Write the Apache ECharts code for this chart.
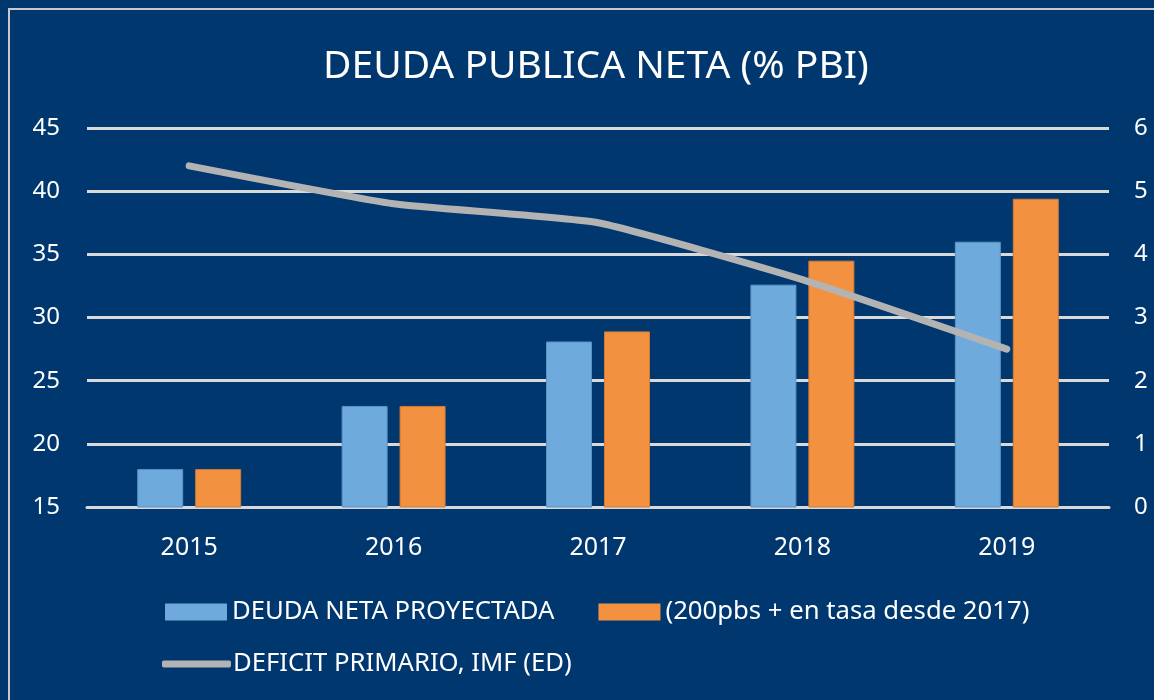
<!DOCTYPE html>
<html>
<head>
<meta charset="utf-8">
<script src="https://cdn.jsdelivr.net/npm/echarts@6/dist/echarts.min.js"></script>
<style>
  html, body { margin: 0; padding: 0; background: #01376f; }
  #main { width: 1154px; height: 700px; }
</style>
</head>
<body>
<div id="main"></div>
<script>
// datos
var years = ['2015', '2016', '2017', '2018', '2019'];
var deudaProyectada = [18.0, 23.0, 28.1, 32.6, 36.0];
var deudaTasa = [18.0, 23.0, 28.9, 34.5, 39.4];
var deficitPrimario = [5.4, 4.8, 4.5, 3.6, 2.5];
var leftTicks = { min: 15, max: 45, interval: 5 };
var rightTicks = { min: 0, max: 6, interval: 1 };

var font = 'Noto Sans';
var white = '#ffffff';
var gridColor = '#d9d9d9';

var chart = echarts.init(document.getElementById('main'));
chart.setOption({
  backgroundColor: '#01376f',
  textStyle: { fontFamily: font },
  title: {
    text: 'DEUDA PUBLICA NETA (% PBI)',
    left: 318,
    top: 42,
    textStyle: { color: white, fontSize: 39, fontWeight: 'normal', fontFamily: font }
  },
  graphic: [{
    type: 'rect',
    shape: { x: 9, y: 9, width: 1160, height: 710 },
    style: { fill: null, stroke: '#c9c9c9', lineWidth: 2 },
    silent: true
  }],
  legend: [{
    data: ['DEUDA NETA PROYECTADA', '(200pbs + en tasa desde 2017)'],
    left: 160,
    top: 594,
    itemWidth: 62,
    itemHeight: 17,
    itemGap: 44,
    icon: 'rect',
    itemStyle: { borderWidth: 0 },
    textStyle: { color: white, fontSize: 25.7, fontFamily: font, padding: [0, 0, 0, 0] }
  }, {
    data: ['DEFICIT PRIMARIO, IMF (ED)'],
    left: 157,
    top: 646,
    itemWidth: 69,
    itemHeight: 7,
    icon: 'roundRect',
    textStyle: { color: white, fontSize: 25.7, fontFamily: font, padding: [0, 0, 0, -3] }
  }],
  grid: { left: 87, right: 45, top: 128, bottom: 193, containLabel: false },
  xAxis: {
    type: 'category',
    data: years,
    axisLine: { lineStyle: { color: gridColor, width: 3 } },
    axisTick: { show: false },
    axisLabel: { color: white, fontSize: 25, margin: 28, fontFamily: font }
  },
  yAxis: [{
    type: 'value',
    min: leftTicks.min,
    max: leftTicks.max,
    interval: leftTicks.interval,
    axisLine: { show: false },
    axisTick: { show: false },
    splitLine: { lineStyle: { color: gridColor, width: 3 } },
    axisLabel: { color: white, fontSize: 24, margin: 27, fontFamily: font }
  }, {
    type: 'value',
    min: rightTicks.min,
    max: rightTicks.max,
    interval: rightTicks.interval,
    axisLine: { show: false },
    axisTick: { show: false },
    splitLine: { show: false },
    axisLabel: { color: white, fontSize: 24, margin: 25, fontFamily: font }
  }],
  series: [{
    name: 'DEUDA NETA PROYECTADA',
    type: 'bar',
    data: deudaProyectada,
    barWidth: 46,
    barGap: '26%',
    itemStyle: { color: '#6eaadb', borderColor: '#5b93c6', borderWidth: 1 }
  }, {
    name: '(200pbs + en tasa desde 2017)',
    type: 'bar',
    data: deudaTasa,
    barWidth: 46,
    itemStyle: { color: '#f29140', borderColor: '#d67a30', borderWidth: 1 }
  }, {
    name: 'DEFICIT PRIMARIO, IMF (ED)',
    type: 'line',
    yAxisIndex: 1,
    data: deficitPrimario,
    smooth: 0.15,
    symbol: 'none',
    color: '#b3b3b3',
    lineStyle: { color: '#b3b3b3', width: 7, cap: 'round', join: 'round' },
    z: 5
  }]
});
</script>
</body>
</html>
